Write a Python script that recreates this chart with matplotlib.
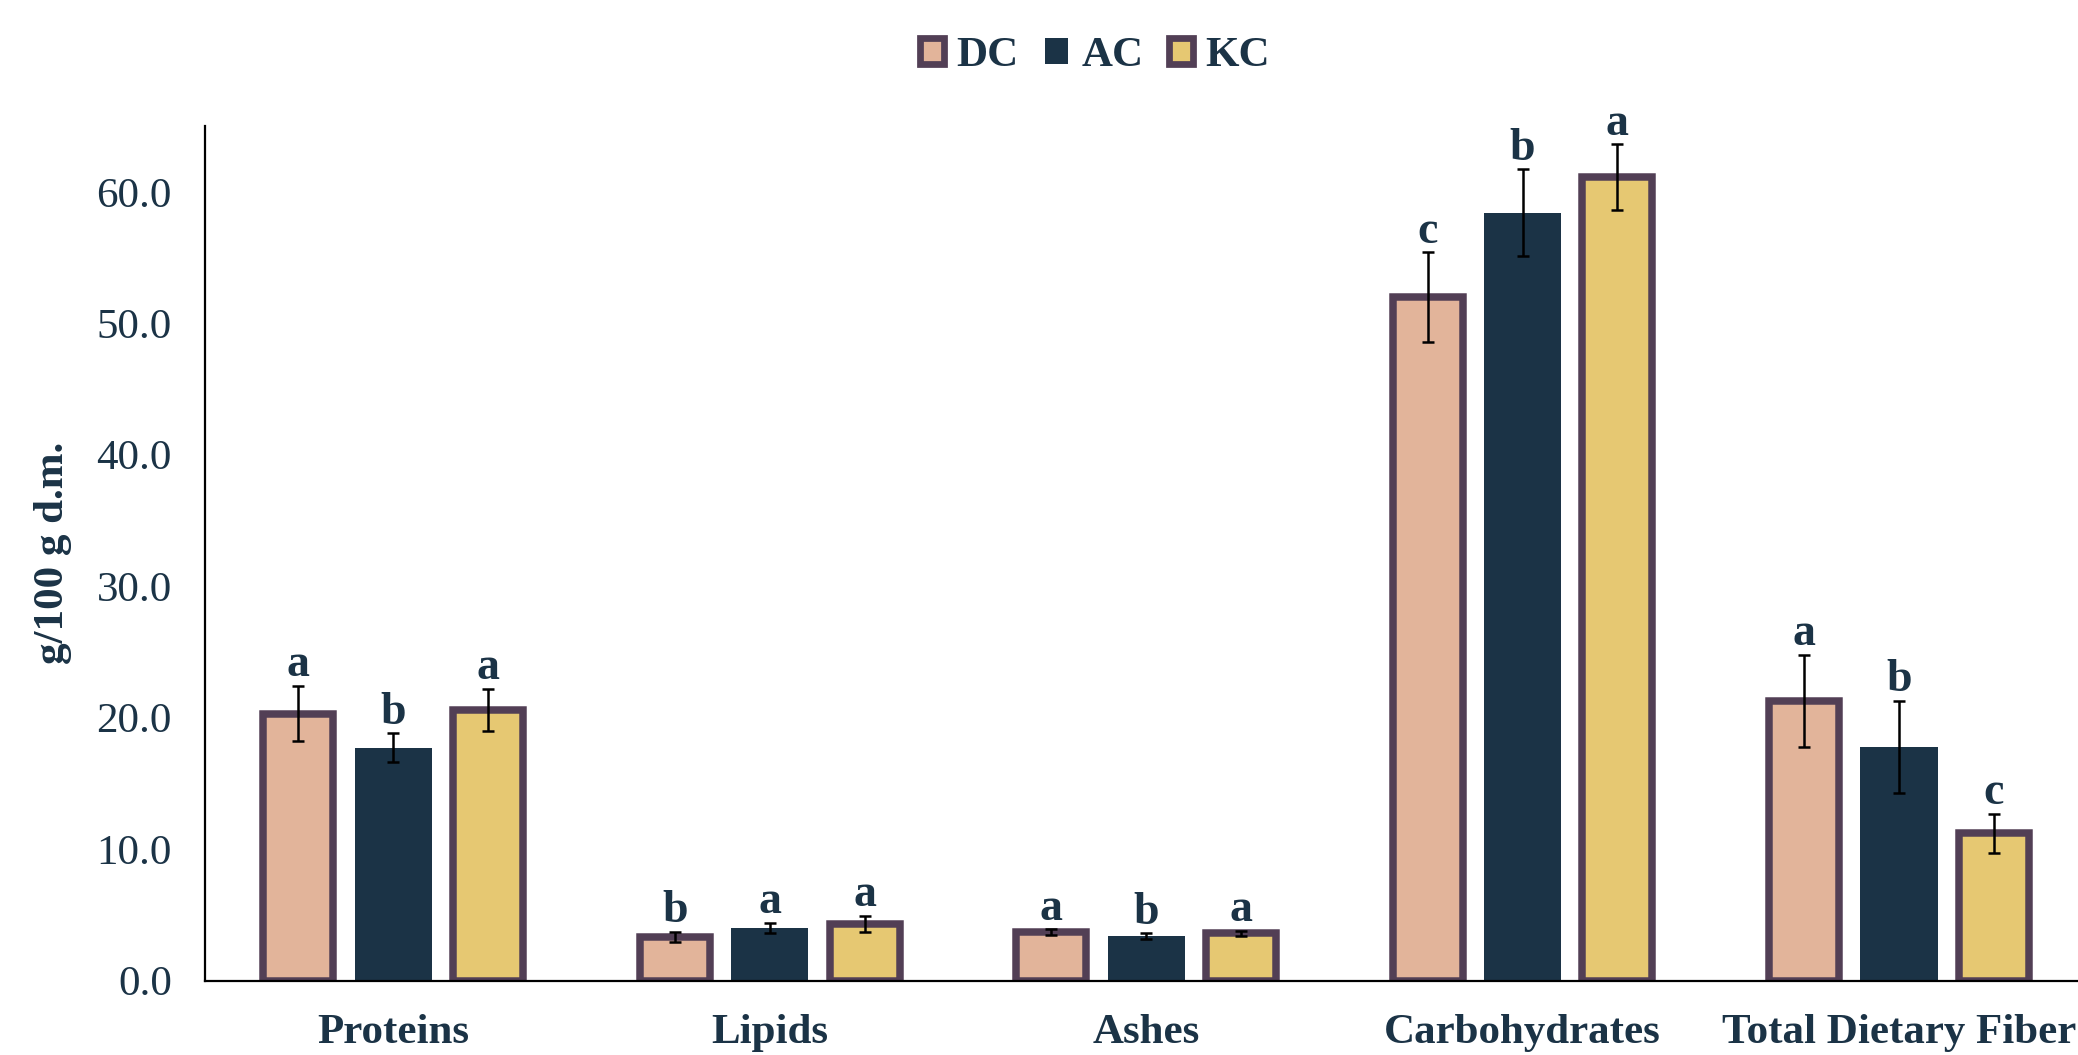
import numpy as np
import matplotlib.pyplot as plt
from matplotlib.patches import Patch

plt.rcParams['font.family'] = ['Liberation Serif', 'DejaVu Serif']

categories = ['Proteins', 'Lipids', 'Ashes', 'Carbohydrates', 'Total Dietary Fiber']
groups = ['DC', 'AC', 'KC']

dc_mean = [20.3, 3.3, 3.7, 52.0, 21.3]
ac_mean = [17.7, 4.0, 3.4, 58.4, 17.8]
kc_mean = [20.6, 4.3, 3.6, 61.1, 11.2]

dc_sd = [2.1, 0.4, 0.2, 3.4, 3.5]
ac_sd = [1.1, 0.4, 0.2, 3.3, 3.5]
kc_sd = [1.6, 0.6, 0.2, 2.5, 1.5]

dc_letters = ['a', 'b', 'a', 'c', 'a']
ac_letters = ['b', 'a', 'b', 'b', 'b']
kc_letters = ['a', 'a', 'a', 'a', 'c']

navy = '#1B3346'
edge = '#523F55'
fills = ['#E2B49A', navy, '#E6C872']
edges = [edge, navy, edge]
lws = [5.4, 0, 5.4]

fig = plt.figure(figsize=(20.78, 10.55), dpi=100)
ax = fig.add_axes([0.0987, 0.0705, 0.9057, 0.81])

x = np.arange(len(categories))
step = 0.252
outer = 0.205

series = [(dc_mean, dc_sd, dc_letters), (ac_mean, ac_sd, ac_letters), (kc_mean, kc_sd, kc_letters)]
for i, (mean, sd, letters) in enumerate(series):
    pos = x + (i - 1) * step
    w = outer - 0.019 if lws[i] > 0 else outer
    ax.bar(pos, mean, width=w, color=fills[i], edgecolor=edges[i], linewidth=lws[i], zorder=2)
    ax.errorbar(pos, mean, yerr=sd, fmt='none', ecolor='black', elinewidth=1.8,
                capsize=4.3, capthick=1.8, zorder=3)
    for p, m, s, lab in zip(pos, mean, sd, letters):
        ax.annotate(lab, (p, m + s), xytext=(0, 7), textcoords='offset points',
                    ha='center', va='baseline', fontsize=33, fontweight='bold', color=navy)

ax.set_xlim(-0.5, 4.5)
ax.set_ylim(0, 65)
ax.set_yticks(np.arange(0, 61, 10))
ax.set_yticklabels([f'{v:.1f}' for v in np.arange(0, 61, 10)], fontsize=31, color=navy)
ax.set_xticks(x)
ax.set_xticklabels(categories, fontsize=31, fontweight='bold', color=navy)
ax.tick_params(axis='both', length=0)
ax.tick_params(axis='y', pad=24)
ax.tick_params(axis='x', pad=24)

for s in ['top', 'right']:
    ax.spines[s].set_visible(False)
for s in ['left', 'bottom']:
    ax.spines[s].set_linewidth(1.6)
    ax.spines[s].set_color('black')
    ax.spines[s].set_zorder(4)

fig.text(0.0255, 0.476, 'g/100 g d.m.', rotation=90, ha='center', va='center',
         fontsize=31, fontweight='bold', color=navy)

handles = [Patch(facecolor=fills[i], edgecolor=edges[i], linewidth=lws[i] * 0.9) for i in range(3)]
leg = fig.legend(handles, groups, loc='center', bbox_to_anchor=(0.527, 0.947), ncol=3,
                 frameon=False, handlelength=0.55, handleheight=0.55, handletextpad=0.3,
                 columnspacing=0.6, prop={'size': 31, 'weight': 'bold'})
for t in leg.get_texts():
    t.set_color(navy)

fig.savefig('out.png', dpi=100)
